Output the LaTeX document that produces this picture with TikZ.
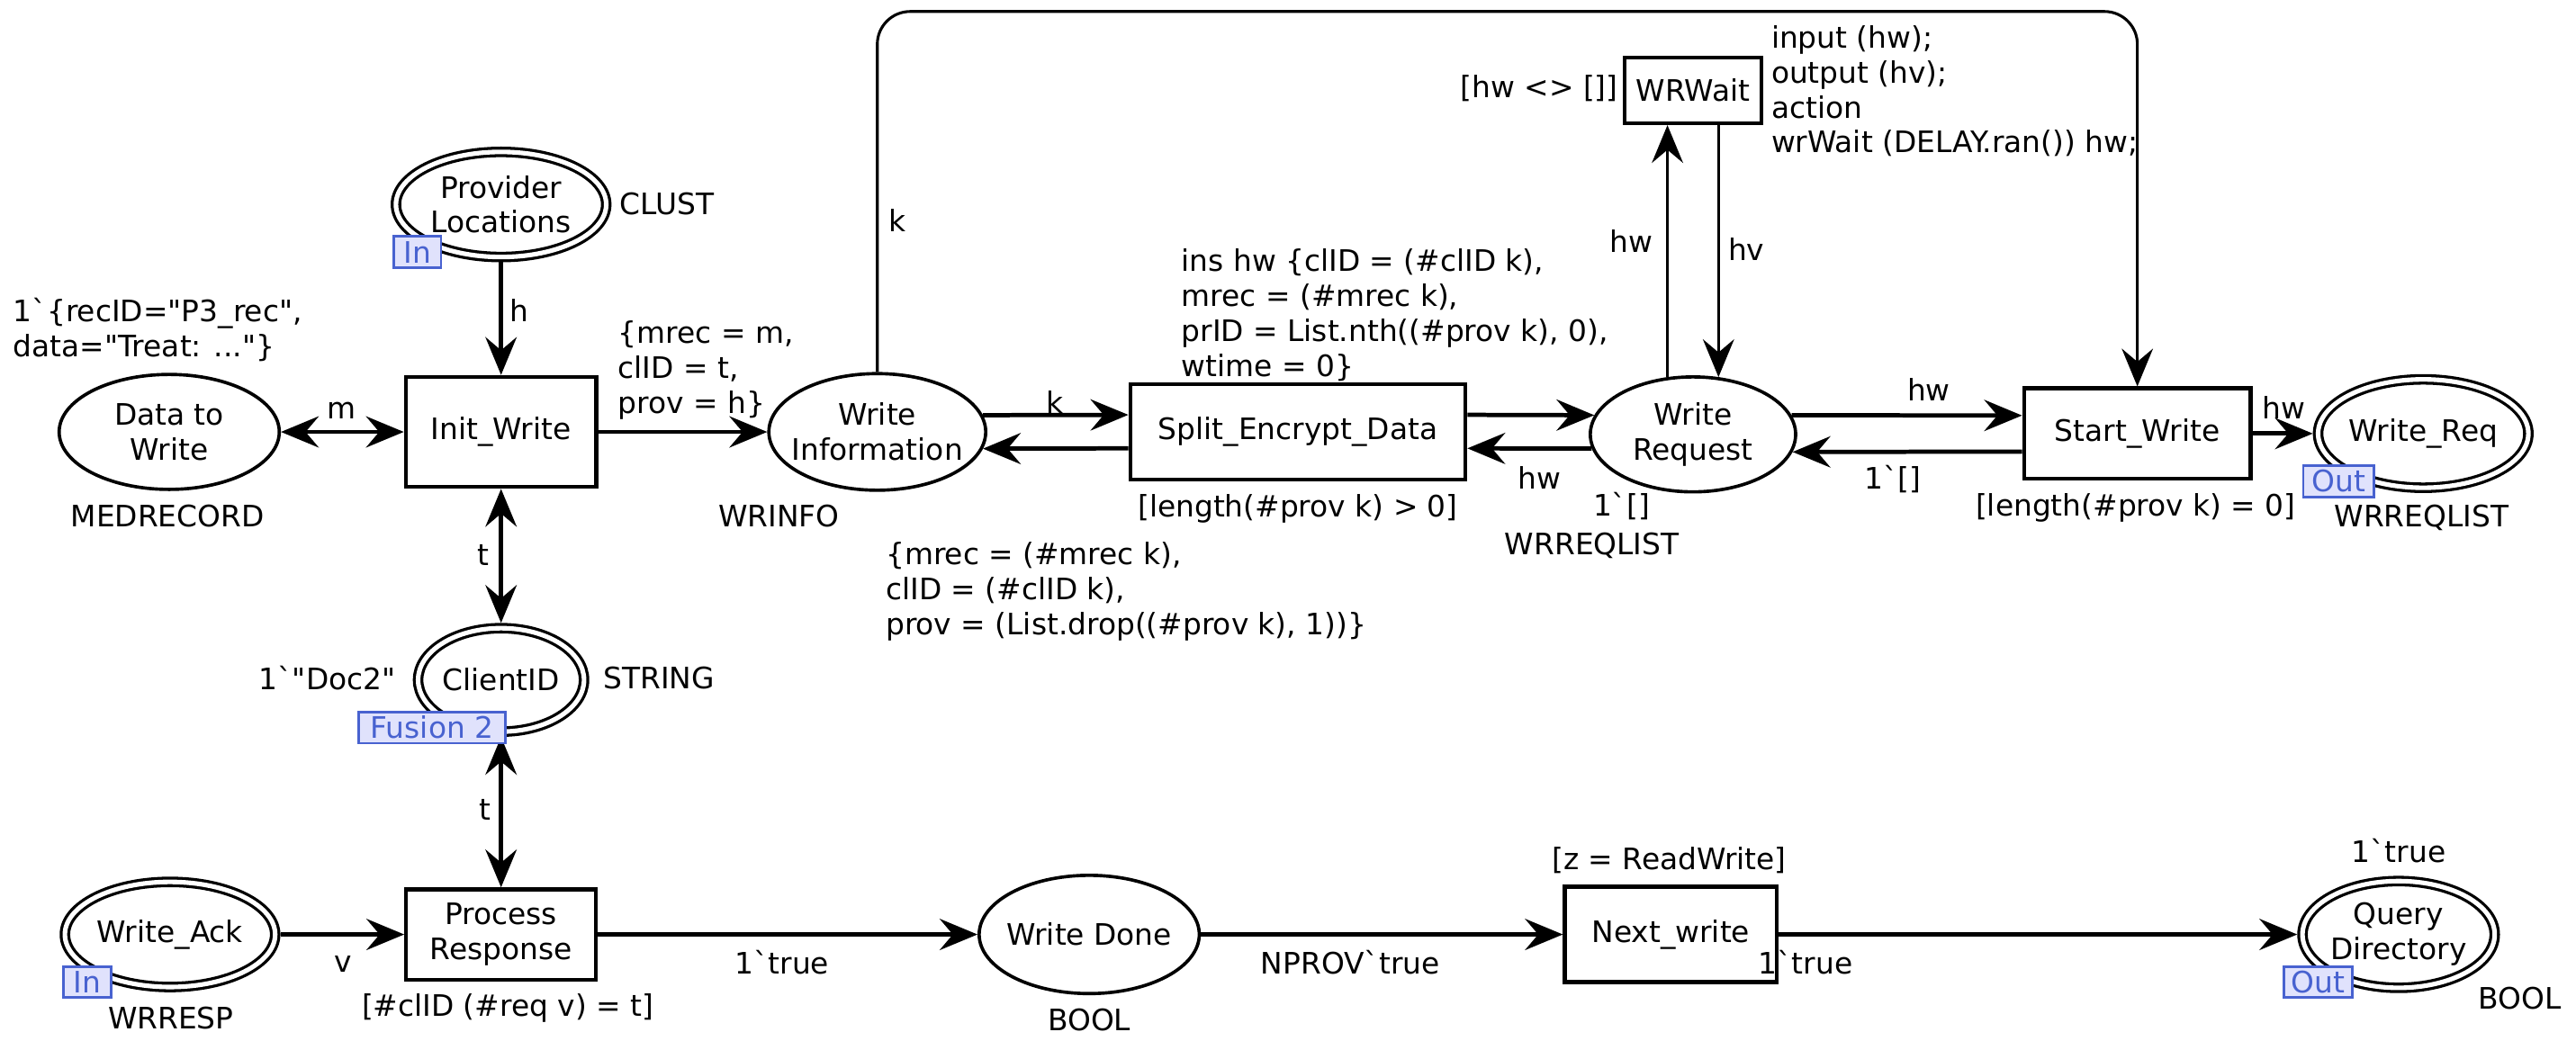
\documentclass[tikz,border=0pt]{standalone}
\usepackage{fontspec}
\setmainfont{DejaVu Sans}[Ligatures=TeXOff]
\usetikzlibrary{arrows.meta,shapes.geometric}
\definecolor{tagline}{RGB}{72,98,208}
\definecolor{tagbg}{RGB}{224,226,252}
\begin{document}
\begin{tikzpicture}[x=1pt,y=-1pt,
  font=\fontsize{18}{21.3}\selectfont,
  >={Stealth[length=23pt,width=19pt,inset=8pt]},
  place/.style={ellipse,draw,line width=2pt,inner sep=0pt},
  dplace/.style={ellipse,draw,line width=1.8pt,double,double distance=2.8pt,inner sep=0pt,outer sep=3.2pt},
  trans/.style={rectangle,draw,line width=2.4pt,inner sep=0pt,align=center},
  txt/.style={inner sep=0pt,align=center},
  lbl/.style={inner sep=0pt,align=left},
  tag/.style={draw=tagline,fill=tagbg,text=tagline,line width=1.5pt,inner sep=0pt,minimum height=19pt},
  arc/.style={line width=2.6pt,->},
  tarc/.style={line width=1.7pt,->},
  barc/.style={line width=2.6pt,<->},
]
\useasboundingbox (0,0) rectangle (1568,639.35);
\fill[white] (0,0) rectangle (1568,639.35);
\coordinate (top) at (0,7);

% places
\node[place,minimum width=134pt,minimum height=70pt] (dtw) at (103,263) {};
\node[txt] (dtwt) at (dtw) {Data to\\Write};
\node[dplace,minimum width=128pt,minimum height=64pt] (prov) at (305,124.5) {};
\node[txt] (provt) at (prov) {Provider\\Locations};
\node[place,minimum width=132pt,minimum height=71pt] (winfo) at (534,263) {};
\node[txt] (winfot) at (winfo) {Write\\Information};
\node[place,minimum width=125pt,minimum height=70pt] (wreq) at (1030.5,264.5) {};
\node[txt] (wreqt) at (wreq) {Write\\Request};
\node[dplace,minimum width=128pt,minimum height=66pt] (wrq) at (1475,264) {};
\node[txt] (wrqt) at (wrq) {Write\_Req};
\node[dplace,minimum width=101pt,minimum height=63pt] (clid) at (305,414) {};
\node[txt] (clidt) at (clid) {ClientID};
\node[dplace,minimum width=128pt,minimum height=64pt] (wack) at (103.5,569) {};
\node[txt] (wackt) at (wack) {Write\_Ack};
\node[place,minimum width=134pt,minimum height=72pt] (wdone) at (663,569) {};
\node[txt] (wdonet) at (wdone) {Write Done};
\node[dplace,minimum width=117pt,minimum height=65pt] (qdir) at (1460,569) {};
\node[txt] (qdirt) at (qdir) {Query\\Directory};

% transitions
\node[trans,minimum width=116pt,minimum height=67pt] (initw) at (305,263) {Init\_Write};
\node[trans,minimum width=204pt,minimum height=58pt] (split) at (790,263) {Split\_Encrypt\_Data};
\node[trans,minimum width=83pt,minimum height=40pt] (wrwait) at (1030.5,55) {WRWait};
\node[trans,minimum width=138pt,minimum height=55pt] (startw) at (1301,264) {Start\_Write};
\node[trans,minimum width=115.5pt,minimum height=55pt] (procr) at (305,569) {Process\\Response};
\node[trans,minimum width=129pt,minimum height=58pt] (nextw) at (1017,569) {Next\_write};

% arcs
\draw[barc] (dtw) -- (initw);
\draw[arc] (prov) -- (initw);
\draw[arc] (initw) -- (winfo);
\draw[barc] (initw) -- (clid);
\draw[barc] (clid) -- (procr);
\draw[arc] (wack) -- (procr);
\draw[arc] (procr) -- (wdone);
\draw[arc] (wdone) -- (nextw);
\draw[arc] (nextw) -- (qdir);
\draw[arc] (winfo.9) -- ([yshift=10.4pt]split.west);
\draw[arc] ([yshift=-10pt]split.west) -- (winfo.351);
\draw[arc] ([yshift=10.4pt]split.east) -- (wreq.169);
\draw[arc] (wreq.188) -- ([yshift=-10pt]split.east);
\draw[arc] (wreq.11) -- ([yshift=11pt]startw.west);
\draw[arc] ([yshift=-11pt]startw.west) -- (wreq.350);
\draw[arc] (startw) -- (wrq);
\draw[tarc] (wreq.114) -- (wreq.114 |- wrwait.south);
\draw[tarc] (wrwait.south -| wreq.66) -- (wreq.66);
\draw[tarc,rounded corners=20pt] (winfo.north) -- (winfo.north |- top) -- (startw.north |- top) -- (startw.north);

% labels
\node[lbl,anchor=west] (initm) at (8,201) {1`\{recID="P3\_rec",\\data="Treat: ..."\}};
\node[txt] (medr) at (102,314) {MEDRECORD};
\node[txt] (lm) at (208,250) {m};
\node[txt] (lh) at (316,189) {h};
\node[lbl,anchor=west] (lclust) at (377,124) {CLUST};
\node[lbl,anchor=west] (linit) at (376,225.5) {\{mrec = m,\\clID = t,\\prov = h\}};
\node[txt] (wrinfo) at (474,314) {WRINFO};
\node[txt] (lk1) at (546,134) {k};
\node[txt] (lk2) at (642,245) {k};
\node[lbl,anchor=west] (lins) at (719,192) {ins hw \{clID = (\#clID k),\\mrec = (\#mrec k),\\prID = List.nth((\#prov k), 0),\\wtime = 0\}};
\node[txt] (gsplit) at (790,310) {{[length(\#prov k) > 0]}};
\node[txt] (lhw4) at (937,291) {hw};
\node[txt] (l1e1) at (987,308) {1`[]};
\node[txt] (wreqtype) at (969,332) {WRREQLIST};
\node[lbl,anchor=east] (gwait) at (985,54) {{[hw <> []]}};
\node[lbl,anchor=west] (code) at (1078,55.5) {input (hw);\\output (hv);\\action\\wrWait (DELAY.ran()) hw;};
\node[txt] (lhw1) at (993,147) {hw};
\node[txt] (lhv) at (1063,152) {hv};
\node[txt] (lhw2) at (1174,237) {hw};
\node[txt] (l1e2) at (1152,292) {1`[]};
\node[txt] (gstart) at (1300,309) {{[length(\#prov k) = 0]}};
\node[txt] (lhw3) at (1390,248) {hw};
\node[txt] (wrqtype) at (1474,315) {WRREQLIST};
\node[lbl,anchor=west] (lback) at (539,360) {\{mrec = (\#mrec k),\\clID = (\#clID k),\\prov = (List.drop((\#prov k), 1))\}};
\node[lbl,anchor=east] (ldoc) at (241,413) {1`"Doc2"};
\node[lbl,anchor=west] (lstring) at (367,413) {STRING};
\node[txt] (lt1) at (294,338) {t};
\node[txt] (lt2) at (295,493) {t};
\node[txt] (lv) at (209,587) {v};
\node[txt] (wresp) at (104,620) {WRRESP};
\node[txt] (gproc) at (309,614) {{[\#clID (\#req v) = t]}};
\node[txt] (ltrue1) at (476,586) {1`true};
\node[txt] (bool1) at (663,621) {BOOL};
\node[txt] (lnprov) at (822,586) {NPROV`true};
\node[txt] (gnext) at (1016,524) {{[z = ReadWrite]}};
\node[txt] (ltrue2) at (1099,586) {1`true};
\node[txt] (ltrue3) at (1460,518) {1`true};
\node[txt] (bool2) at (1534,608) {BOOL};

% tags
\node[tag,minimum width=29pt] (tagprov) at (254,153.5) {In};
\node[tag,minimum width=43pt] (tagwrq) at (1423.5,293) {Out};
\node[tag,minimum width=89pt] (tagclid) at (263,443) {Fusion 2};
\node[tag,minimum width=29pt] (tagwack) at (53,598) {In};
\node[tag,minimum width=42pt] (tagqdir) at (1411,598) {Out};
\end{tikzpicture}
\end{document}
